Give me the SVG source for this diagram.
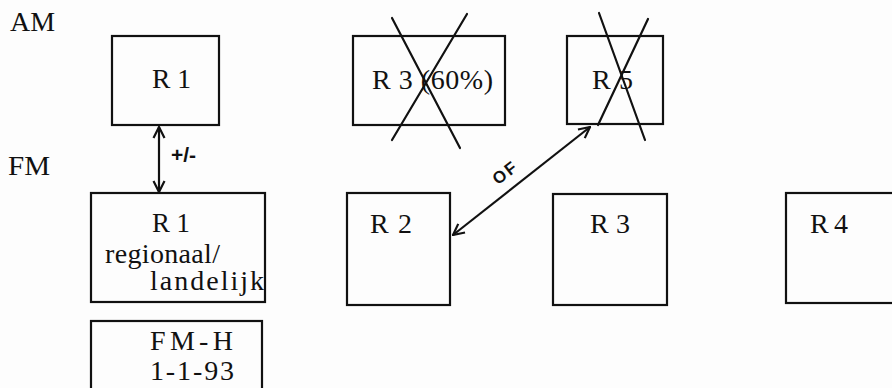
<svg xmlns="http://www.w3.org/2000/svg" width="892" height="388" viewBox="0 0 892 388">
<style>
.box{fill:none;stroke:#111;stroke-width:2.2}
.t{font-family:"Liberation Serif","Times New Roman",serif;font-size:28px;fill:#111}
.x{stroke:#111;stroke-width:2.2;fill:none;stroke-linecap:round}
.c{stroke:#111;stroke-width:2.2;fill:none}
.h{font-family:"Liberation Sans",Arial,sans-serif;font-weight:bold;fill:#111}
</style>
<defs>
<marker id="ah" viewBox="0 0 12 12" refX="11" refY="6" markerWidth="6" markerHeight="6" orient="auto-start-reverse" markerUnits="strokeWidth">
<path d="M1,1 L11,6 L1,11" fill="none" stroke="#111" stroke-width="2"/>
</marker>
</defs>
<rect width="892" height="388" fill="#fdfdfd"/>
<g id="labels">
<text class="t" x="10" y="31" textLength="45" lengthAdjust="spacingAndGlyphs">AM</text>
<text class="t" x="8" y="175" textLength="42" lengthAdjust="spacingAndGlyphs">FM</text>
</g>
<g id="am-r1">
<rect class="box" x="112" y="36" width="107" height="89"/>
<text class="t" x="152" y="88" textLength="39" lengthAdjust="spacingAndGlyphs">R 1</text>
</g>
<g id="am-r3">
<rect class="box" x="353" y="36" width="152" height="89"/>
<text class="t" x="372" y="89" textLength="121" lengthAdjust="spacing">R 3 (60%)</text>
<line class="x" x1="392" y1="18" x2="460" y2="148"/>
<line class="x" x1="467" y1="14" x2="392" y2="140"/>
</g>
<g id="am-r5">
<rect class="box" x="567" y="36" width="96" height="88"/>
<text class="t" x="592" y="89" textLength="41" lengthAdjust="spacing">R 5</text>
<line class="x" x1="599" y1="13" x2="645" y2="140"/>
<line class="x" x1="648" y1="19" x2="598" y2="125"/>
</g>
<g id="fm-r1">
<rect class="box" x="91" y="193" width="174" height="109"/>
<text class="t" x="152" y="232" textLength="38" lengthAdjust="spacingAndGlyphs">R 1</text>
<text class="t" x="105" y="263" textLength="115" lengthAdjust="spacing">regionaal/</text>
<text class="t" x="150" y="290" textLength="114" lengthAdjust="spacing">landelijk</text>
</g>
<g id="fm-r2">
<rect class="box" x="347" y="193" width="103" height="112"/>
<text class="t" x="370" y="233" textLength="42" lengthAdjust="spacing">R 2</text>
</g>
<g id="fm-r3">
<rect class="box" x="553" y="194" width="114" height="111"/>
<text class="t" x="590" y="233" textLength="40" lengthAdjust="spacing">R 3</text>
</g>
<g id="fm-r4">
<rect class="box" x="786" y="193" width="120" height="110"/>
<text class="t" x="810" y="233" textLength="38" lengthAdjust="spacing">R 4</text>
</g>
<g id="fm-h">
<rect class="box" x="91" y="321" width="171" height="80"/>
<text class="t" x="150" y="350" textLength="83" lengthAdjust="spacing">FM-H</text>
<text class="t" x="150" y="380" textLength="84" lengthAdjust="spacing">1-1-93</text>
</g>
<g id="connectors">
<line class="c" x1="159" y1="127" x2="159" y2="192" marker-start="url(#ah)" marker-end="url(#ah)"/>
<text class="h" x="171" y="162" font-size="21">+/-</text>
<line class="c" x1="453" y1="235" x2="590" y2="127" marker-start="url(#ah)" marker-end="url(#ah)"/>
<text class="h" x="509" y="177" font-size="17" text-anchor="middle" letter-spacing="2" transform="rotate(-38 509 177)">OF</text>
</g>
</svg>
